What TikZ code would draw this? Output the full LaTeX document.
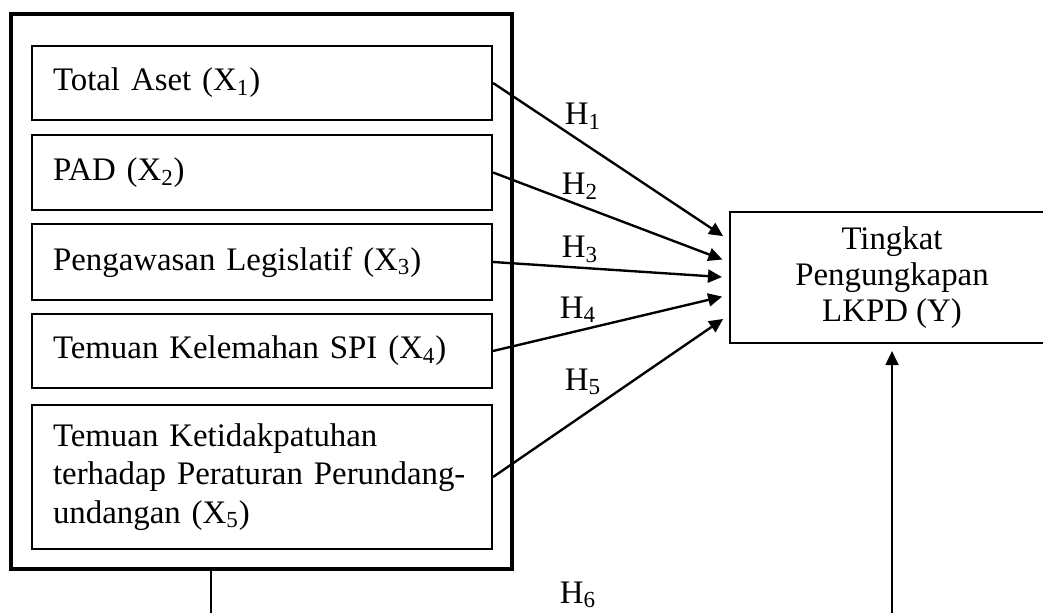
\documentclass[tikz,border=0pt]{standalone}
\usepackage{fontspec}
\setmainfont{Liberation Serif}
\usetikzlibrary{arrows.meta,positioning,calc}

\begin{document}
\begin{tikzpicture}[x=0.02cm, y=0.02cm, every node/.style={font=\fontsize{18.7}{21.8}\selectfont}]
\tikzset{var/.style={draw, line width=1.25pt, minimum width=9.2cm, text width=8.36cm, inner xsep=0.42cm, align=left}}
\tikzset{dep/.style={draw, line width=1.25pt, minimum width=6.48cm, minimum height=2.62cm, align=center, font=\fontsize{18.7}{20.7}\selectfont}}
\tikzset{hyp/.style={anchor=base}}
\tikzset{arrow/.style={-{Triangle[length=0.28cm, width=0.26cm]}, line width=1.35pt, shorten >=0.14cm}}
\clip (0,0) rectangle (1043,612);
\useasboundingbox (0,0) rectangle (1043,612);
% outer frame round the five variables
\node[draw, line width=2pt, minimum width=10.02cm, minimum height=11.1cm] (frame) at (261.5,320.5) {};
\node[var, minimum height=1.48cm] (x1) at (262,529) {Total Aset (X\textsubscript{1})};
\node[var, minimum height=1.5cm] (x2) at (262,439.5) {PAD (X\textsubscript{2})};
\node[var, minimum height=1.52cm] (x3) at (262,350) {Pengawasan Legislatif (X\textsubscript{3})};
\node[var, minimum height=1.48cm] (x4) at (262,261) {Temuan Kelemahan SPI (X\textsubscript{4})};
\node[var, minimum height=2.88cm] (x5) at (262,135) {Temuan Ketidakpatuhan\\terhadap Peraturan Perundang-\\undangan (X\textsubscript{5})};
\node[dep] (y) at (892,334.5) {Tingkat\\Pengungkapan\\LKPD (Y)};
% hypothesis labels
\node[hyp] (h1) at (583,487) {H\textsubscript{1}};
\node[hyp] (h2) at (580,417) {H\textsubscript{2}};
\node[hyp] (h3) at (580,354) {H\textsubscript{3}};
\node[hyp] (h4) at (578,294) {H\textsubscript{4}};
\node[hyp] (h5) at (583,222) {H\textsubscript{5}};
\node[hyp] (h6) at (578,9) {H\textsubscript{6}};
\draw[arrow] (x1.east) -- ([yshift=0.75cm]y.west);
\draw[arrow] (x2.east) -- ([yshift=0.31cm]y.west);
\draw[arrow] (x3.east) -- (y.west);
\draw[arrow] (x4.east) -- ([yshift=-0.35cm]y.west);
\draw[arrow] (x5.east) -- ([yshift=-0.75cm]y.west);
\coordinate (out6) at (211,0 |- frame.south);
\draw[arrow, line width=1.1pt] (out6) -- (211,-20) -- (892,-20) -- (y.south);
\end{tikzpicture}
\end{document}
